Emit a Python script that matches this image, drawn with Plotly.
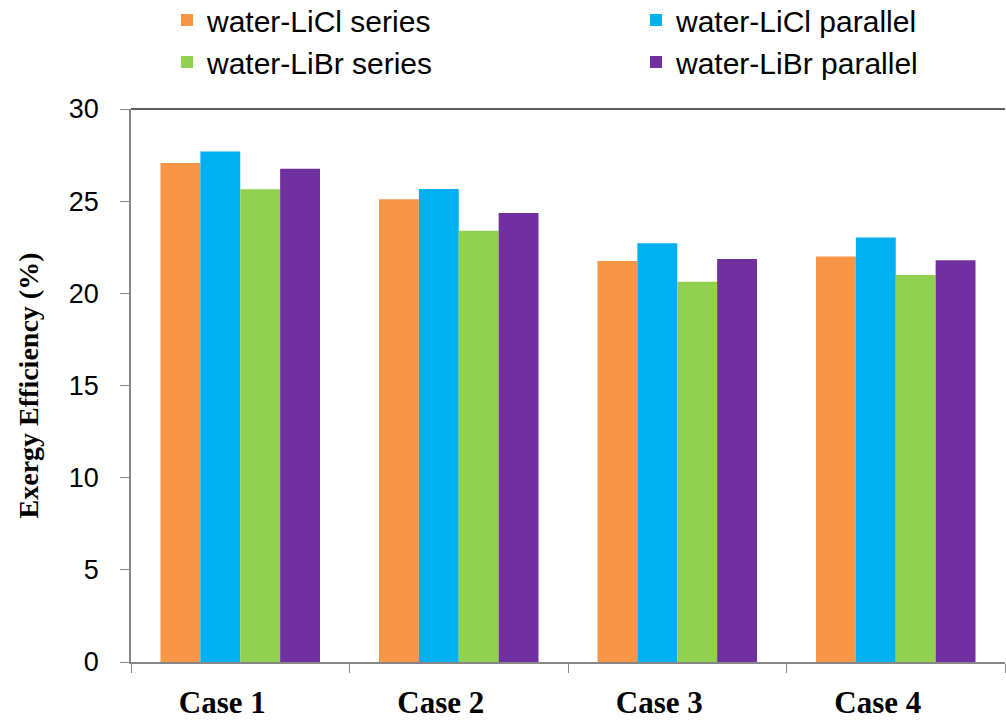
import plotly.graph_objects as go

# Exergy efficiency (%) for each configuration and working pair
cases = ["Case 1", "Case 2", "Case 3", "Case 4"]
licl_series = [27.07, 25.1, 21.75, 22.0]
licl_parallel = [27.7, 25.66, 22.72, 23.03]
libr_series = [25.65, 23.39, 20.63, 21.0]
libr_parallel = [26.76, 24.36, 21.86, 21.8]

series_names = ["water-LiCl series", "water-LiCl parallel",
                "water-LiBr series", "water-LiBr parallel"]
series_values = [licl_series, licl_parallel, libr_series, libr_parallel]
series_colors = ["#F79646", "#00B0F0", "#92D050", "#7030A0"]

# one legend box per entry, laid out as a 2 x 2 block above the plot
legend_ids = ["legend", "legend2", "legend3", "legend4"]
legend_x_px = [167, 636, 167, 636]
legend_y_px = [20, 20, 62, 62]

fig = go.Figure()
for name, vals, col, lg in zip(series_names, series_values, series_colors, legend_ids):
    fig.add_trace(go.Bar(
        x=cases, y=vals, name=name, legend=lg,
        marker=dict(color=col, line=dict(width=0)),
    ))

W, H = 1006, 721
axis_grey = "#868686"
legend_font = dict(family="Liberation Sans, Arial, sans-serif", size=30, color="#000000")

legend_layout = {}
for lg, lx, ly in zip(legend_ids, legend_x_px, legend_y_px):
    legend_layout[lg] = dict(
        orientation="h", xref="container", yref="container",
        x=lx / W, y=1 - ly / H, xanchor="left", yanchor="middle",
        font=legend_font, bgcolor="rgba(0,0,0,0)",
    )

fig.update_layout(
    width=W, height=H,
    margin=dict(l=131, r=1, t=109, b=59, autoexpand=False),
    paper_bgcolor="white", plot_bgcolor="white",
    barmode="group", bargap=0.27, bargroupgap=0,
    showlegend=True,
    **legend_layout,
    xaxis=dict(
        showline=True, linecolor=axis_grey, linewidth=1.5,
        ticks="outside", tickson="boundaries", ticklen=9, tickcolor=axis_grey,
        tickfont=dict(family="Liberation Serif, Times New Roman, serif", size=31,
                      color="#000000", weight="bold"),
        ticklabelstandoff=12, ticklabelshift=-18,
        showgrid=False, zeroline=False,
    ),
    yaxis=dict(
        range=[0, 30], dtick=5, tick0=0,
        showline=True, linecolor=axis_grey, linewidth=1.5,
        ticks="outside", ticklen=9, tickcolor=axis_grey,
        tickfont=dict(family="Liberation Sans, Arial, sans-serif", size=27, color="#000000"),
        ticklabelstandoff=16,
        showgrid=False, zeroline=False,
        title=dict(text="Exergy Efficiency (%)", standoff=22,
                   font=dict(family="Liberation Serif, Times New Roman, serif", size=28,
                             color="#000000", weight="bold")),
    ),
)

# dark border along the top of the plotting area
fig.add_shape(type="line", xref="paper", yref="y domain",
              x0=0, x1=1, y0=1, y1=1,
              line=dict(color="#262626", width=1.5))

fig.write_html("out.html")
